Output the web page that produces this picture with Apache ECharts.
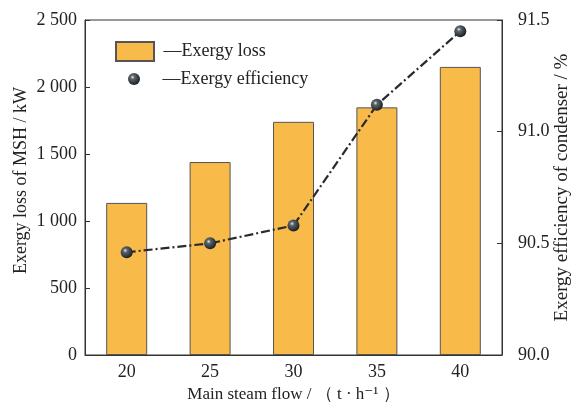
<!DOCTYPE html>
<html>
<head>
<meta charset="utf-8">
<script src="https://cdn.jsdelivr.net/npm/echarts@6/dist/echarts.min.js"></script>
<style>
  html, body { margin: 0; padding: 0; background: #fff; }
  #chart { width: 572px; height: 406px; }
</style>
</head>
<body>
<div id="chart"></div>
<script>
// main steam flow, t/h
const flows = ['20', '25', '30', '35', '40']
// exergy loss of MSH, kW
const exergyLoss = [1135, 1440, 1740, 1848, 2150]
// exergy efficiency of condenser, %
const exergyEff = [90.46, 90.50, 90.58, 91.12, 91.45]
const leftTicks = [0, 2500, 500]
const rightTicks = [90, 91.5, 0.5]

const serif = '"Liberation Serif", "DejaVu Serif", serif'
const ink = '#222'

const sphere = {
    type: 'radial', x: 0.38, y: 0.35, r: 0.7,
    colorStops: [
        { offset: 0, color: '#e4ebee' },
        { offset: 0.25, color: '#5b646a' },
        { offset: 1, color: '#15191c' }
    ]
}

const myChart = echarts.init(document.getElementById('chart'))
myChart.setOption({
    animation: false,
    textStyle: { fontFamily: serif, color: ink },
    grid: {
        left: 85, right: 70, top: 20, bottom: 51,
        outerBoundsMode: 'none',
        containLabel: false,
        show: true, borderColor: '#333', borderWidth: 1, backgroundColor: 'transparent'
    },
    legend: [
        {
            left: 115, top: 41, orient: 'vertical', padding: 0,
            itemWidth: 38, itemHeight: 19,
            data: [{ name: 'Exergy loss', icon: 'rect' }],
            formatter: n => ' —' + n,
            textStyle: { fontFamily: serif, fontSize: 18, color: ink }
        },
        {
            left: 128, top: 70, orient: 'vertical', padding: 0,
            itemWidth: 38, itemHeight: 12,
            data: [{ name: 'Exergy efficiency', icon: 'circle' }],
            formatter: n => ' —' + n,
            textStyle: { fontFamily: serif, fontSize: 18, color: ink }
        }
    ],
    xAxis: {
        type: 'category',
        data: flows,
        name: 'Main steam flow / （ t · h⁻¹ ）',
        nameLocation: 'middle',
        nameGap: 31,
        nameMoveOverlap: false,
        nameTextStyle: { fontFamily: serif, fontSize: 17, color: ink },
        axisLine: { lineStyle: { color: '#333', width: 1 } },
        axisTick: { inside: true, alignWithLabel: true, length: 5, lineStyle: { color: '#333' } },
        axisLabel: { fontFamily: serif, fontSize: 18, color: ink, margin: 8 }
    },
    yAxis: [
        {
            type: 'value',
            min: leftTicks[0], max: leftTicks[1], interval: leftTicks[2],
            name: 'Exergy loss of MSH / kW',
            nameLocation: 'middle',
            nameRotate: 90,
            nameGap: 55,
            nameMoveOverlap: false,
            nameTextStyle: { fontFamily: serif, fontSize: 18, color: ink, padding: [0, 0, 0, 14] },
            axisLine: { show: true, lineStyle: { color: '#333', width: 1 } },
            axisTick: { show: true, inside: true, length: 5, lineStyle: { color: '#333' } },
            axisLabel: {
                fontFamily: serif, fontSize: 18, color: ink, margin: 8,
                formatter: v => v >= 1000 ? Math.floor(v / 1000) + ' ' + String(v % 1000).padStart(3, '0') : String(v)
            },
            splitLine: { show: false }
        },
        {
            type: 'value',
            position: 'right',
            min: rightTicks[0], max: rightTicks[1], interval: rightTicks[2],
            name: 'Exergy efficiency of condenser / %',
            nameLocation: 'middle',
            nameRotate: 90,
            nameGap: 51,
            nameMoveOverlap: false,
            nameTextStyle: { fontFamily: serif, fontSize: 19, color: ink },
            axisLine: { show: true, lineStyle: { color: '#333', width: 1 } },
            axisTick: { show: true, inside: true, length: 5, lineStyle: { color: '#333' } },
            axisLabel: {
                fontFamily: serif, fontSize: 18, color: ink, margin: 16,
                formatter: v => v.toFixed(1)
            },
            splitLine: { show: false }
        }
    ],
    series: [
        {
            name: 'Exergy loss',
            type: 'bar',
            data: exergyLoss,
            barWidth: 41,
            itemStyle: { color: '#F8BA49', borderColor: '#555', borderWidth: 1 }
        },
        {
            name: 'Exergy efficiency',
            type: 'line',
            yAxisIndex: 1,
            data: exergyEff,
            symbol: 'circle',
            symbolSize: 12,
            z: 5,
            lineStyle: { color: '#2a2a2a', width: 2.2, type: [9, 3, 2, 3] },
            itemStyle: { color: sphere, borderWidth: 0 }
        }
    ]
})
</script>
</body>
</html>
